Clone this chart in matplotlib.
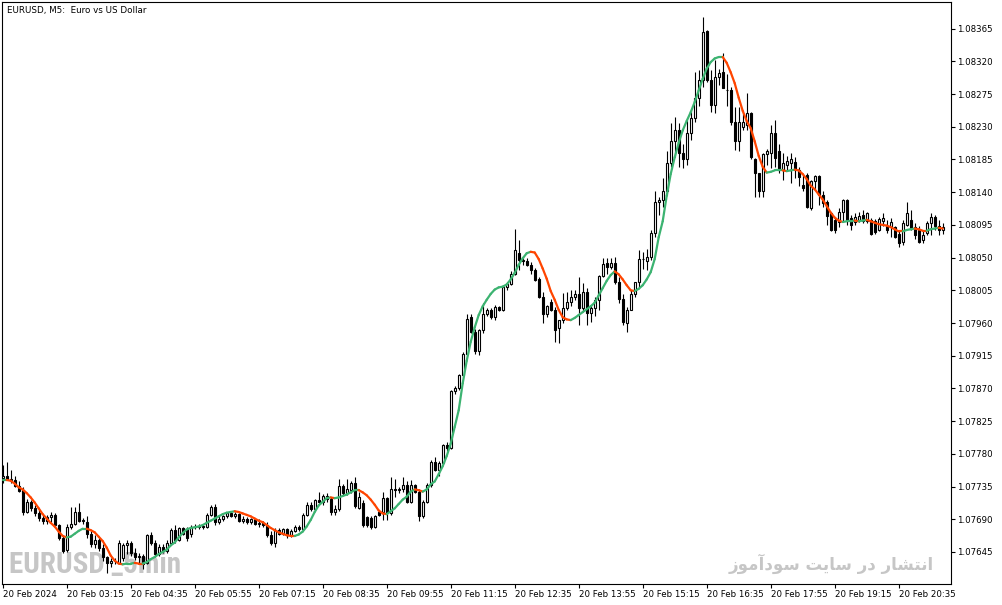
import matplotlib
matplotlib.use("Agg")
import matplotlib.pyplot as plt
from matplotlib.collections import LineCollection
from matplotlib import font_manager
import numpy as np

# ---- data (prices in points = 0.00001 above BASE) ----
BASE = 1.07600
POINT = 0.00001

opens = [147,150,146,144,136,130,100,114,106,98, 92,88,93,96,82,64,48,80,84,100,
         88,86,70,56,62,50,38,30,32,30, 36,54,58,44,38,40,30,68,58,42,
         52,46,58,75,62,78,76,70,80,79, 81,80,96,107,86,90,95,98,95,97,
         88,91,86,90,84,85,82,68,58,75, 70,76,68,74,80,77,96,110,104,116,
         114,122,118,100,104,136,126,130,140,106, 112,93,92,80,100,100,119,98,132,130,
         131,137,114,137,128,94,114,137,169,158, 168,192,188,266,271,288,318,368,348,322,
         350,373,378,368,382,378,410,414,428,457, 447,446,440,433,420,396,373,389,378,353,
         364,380,389,396,400,381,402,374,381,391, 425,443,437,443,416,393,360,378,400,416,
         448,446,451,484,526,529,542,580,611,625, 594,586,621,642,669,695,762,695,660,699,
         706,681,680,636,610,630,633,649,585,566, 541,593,594,621,596,571,578,580,582,571,
         550,564,518,555,562,536,527,511,502,499, 513,529,504,499,502,508,501,502,500,488,
         500,493,492,492,483,472,495,502,492,488, 474,484,497,506,493,488]
highs = [165,169,158,150,142,135,118,116,110,104, 96,96,100,98,84,68,84,107,107,112,
         92,94,74,68,64,56,40,36,36,62, 58,62,60,50,44,42,70,72,62,56,
         56,62,78,82,80,80,80,82,84,83, 84,98,110,111,96,96,100,101,100,98,
         95,93,92,92,90,88,86,74,78,78, 78,78,76,82,82,98,114,114,118,128,
         125,126,120,110,146,138,146,142,148,128, 116,95,94,96,103,128,121,148,146,134,
         148,142,144,139,131,116,140,172,176,170, 194,196,268,274,290,320,372,372,352,352,
         387,380,380,385,384,412,416,432,490,474, 452,450,444,436,424,403,385,393,382,364,
         401,403,405,405,423,415,408,385,396,426, 450,449,449,451,424,400,382,405,417,460,
         458,462,488,541,533,559,596,635,644,635, 607,640,653,706,708,781,763,708,722,710,
         731,703,685,657,657,652,676,651,587,566, 594,600,632,639,607,594,590,594,589,575,
         563,566,557,564,564,541,529,513,506,518, 531,531,508,511,513,516,513,504,503,506,
         511,502,504,494,488,502,527,515,497,493, 488,500,511,509,502,497]
lows = [140,145,140,134,128,96,98,102,95,88, 84,84,86,80,62,44,45,76,82,86,
        84,64,52,50,46,32,16,24,28,28, 32,42,40,34,28,22,28,54,38,40,
        44,44,56,58,60,68,60,66,77,76, 77,78,94,82,84,88,92,93,92,86,
        85,84,83,82,80,80,66,54,52,68, 68,64,66,72,74,76,94,102,102,112,
        110,114,96,96,102,124,124,126,106,104, 80,80,77,78,94,89,89,96,121,126,
        128,112,112,126,87,92,112,134,156,150, 166,184,186,262,268,286,316,346,318,316,
        346,370,366,364,376,376,406,412,426,433, 440,438,428,418,395,360,368,376,334,332,
        360,378,383,392,357,376,357,362,369,378, 424,428,435,414,387,357,348,378,396,410,
        435,433,447,479,508,520,536,575,589,575, 573,577,612,637,658,685,692,651,649,687,
        683,658,633,598,596,626,626,585,534,534, 534,577,573,575,566,557,570,552,559,548,
        541,518,516,543,523,520,495,486,484,492, 500,495,488,495,499,497,497,481,482,486,
        493,484,479,477,465,467,493,488,476,470, 470,481,481,488,481,483]
closes = [150,146,144,136,129,100,114,105,98,92, 88,93,96,82,64,46,80,84,100,88,
          89,70,56,62,50,38,30,32,33,58, 54,58,44,38,40,28,68,58,42,52,
          46,58,75,62,78,70,64,80,79,81, 80,96,107,86,90,95,98,95,97,88,
          91,86,90,84,85,82,68,58,75,70, 76,68,74,80,77,96,110,104,116,114,
          122,118,100,104,136,126,131,140,108,120, 82,82,80,94,96,119,98,132,130,131,
          137,114,137,128,94,114,137,169,158,168, 192,188,266,271,288,318,366,348,322,350,
          373,378,368,382,378,410,414,428,460,447, 446,440,433,419,396,373,384,378,350,364,
          380,389,396,400,381,402,374,381,391,425, 441,437,443,416,393,362,378,400,416,448,
          448,451,484,526,529,542,580,611,626,594, 586,621,642,669,695,761,694,660,699,704,
          683,680,636,610,637,637,649,589,566,541, 593,596,621,587,571,580,583,585,571,561,
          546,520,555,562,536,525,507,488,488,513, 529,500,495,506,507,501,511,483,485,503,
          504,488,499,479,470,497,511,490,481,472, 481,497,506,493,488,492]
ma_line = [144,144,143,139,134,131,126,120,113,105, 97,91,85,80,73,67,65,66,70,74,
           77,77,75,72,66,60,51,40,33,29, 28,29,29,30,29,29,31,35,38,42,
           45,48,54,58,65,71,76,78,79,80, 82,85,88,91,94,97,99,100,101,100,
           98,96,94,91,88,86,82,78,75,72, 70,68,67,67,69,73,80,89,100,109,
           114,119,120,119,120,122,124,127,130,130, 127,123,117,110,102,98,97,101,105,111,
           117,121,128,131,130,128,131,138,142,152, 163,177,194,217,240,277,308,334,354,371,
           383,392,400,406,409,410,413,420,429,440, 449,456,458,457,448,435,421,404,392,378,
           368,365,364,367,371,375,379,383,388,398, 408,418,426,431,427,420,412,405,404,407,
           412,420,430,448,478,500,535,565,588,608, 625,638,650,664,680,696,710,719,724,726,
           726,718,705,690,670,652,638,628,610,590, 575,567,568,570,570,570,569,570,571,570,
           565,558,549,544,537,530,521,512,505,501, 499,500,500,501,500,501,502,500,498,496,
           495,494,492,489,486,486,488,489,490,489, 487,487,489,490,491,490]

x_labels = ["20 Feb 2024", "20 Feb 03:15", "20 Feb 04:35", "20 Feb 05:55", "20 Feb 07:15",
            "20 Feb 08:35", "20 Feb 09:55", "20 Feb 11:15", "20 Feb 12:35", "20 Feb 13:55",
            "20 Feb 15:15", "20 Feb 16:35", "20 Feb 17:55", "20 Feb 19:15", "20 Feb 20:35"]
x_label_bars = [0, 16, 32, 48, 64, 80, 96, 112, 128, 144, 160, 176, 192, 208, 224]
y_ticks = [1.07645, 1.07690, 1.07735, 1.07780, 1.07825, 1.07870, 1.07915, 1.07960, 1.08005,
           1.08050, 1.08095, 1.08140, 1.08185, 1.08230, 1.08275, 1.08320, 1.08365]

title = "EURUSD, M5:  Euro vs US Dollar"
wm_left = "EURUSD _5min"
# "انتشار در سایت سودآموز" written with Arabic presentation forms in visual order
wm_right = "\uFEAF\uFEEE\uFEE3\uFE81\uFEA9\uFEEE\uFEB3 \uFE96\uFEF3\uFE8E\uFEB3 \uFEAD\uFEA9 \uFEAD\uFE8E\uFEB8\uFE98\uFEE7\uFE8D"

GREEN = "#3cb371"
ORANGE = "#ff4500"
WM_GRAY = "#c6c6c6"

# ---- choose a condensed bold face for the left watermark if one is installed ----
def pick_condensed_bold():
    cands = []
    for f in font_manager.fontManager.ttflist:
        name = f.name.lower()
        narrow = ("narrow" in name or "condensed" in name or "cond" in name
                  or f.stretch in ("condensed", "semi-condensed", "extra-condensed", 500, 600, 700))
        if not narrow:
            continue
        w = f.weight if isinstance(f.weight, int) else {"bold": 700, "normal": 400}.get(f.weight, 400)
        if w < 600:
            continue
        pref = 0
        if "liberation" in name:
            pref = -3
        elif "roboto" in name:
            pref = -2
        elif "noto sans" in name or "open sans" in name:
            pref = -1
        cands.append((pref, f.fname))
    if cands:
        cands.sort()
        return font_manager.FontProperties(fname=cands[0][1])
    return None

cond_fp = pick_condensed_bold()

# ---- figure ----
W, H = 1003, 605
fig = plt.figure(figsize=(W / 100, H / 100), dpi=100)
fig.patch.set_facecolor("white")
ax = fig.add_axes([2 / W, (H - 584) / H, (951 - 2) / W, (584 - 2) / H])
ax.set_facecolor("white")

n = len(closes)
x = np.arange(n)
o = BASE + np.array(opens) * POINT
h = BASE + np.array(highs) * POINT
l = BASE + np.array(lows) * POINT
c = BASE + np.array(closes) * POINT
m = BASE + np.array(ma_line) * POINT

ax.vlines(x, l, h, color="black", linewidth=0.8, zorder=3)
up = c >= o
ax.bar(x[up], c[up] - o[up], bottom=o[up], width=0.55, facecolor="white",
       edgecolor="black", linewidth=0.8, zorder=4)
ax.bar(x[~up], o[~up] - c[~up], bottom=c[~up], width=0.55, facecolor="black",
       edgecolor="black", linewidth=0.8, zorder=4)

segs = []
cols = []
cur = GREEN
for i in range(1, n):
    if m[i] > m[i - 1]:
        cur = GREEN
    elif m[i] < m[i - 1]:
        cur = ORANGE
    segs.append([(x[i - 1], m[i - 1]), (x[i], m[i])])
    cols.append(cur)
ax.add_collection(LineCollection(segs, colors=cols, linewidths=1.6, zorder=5,
                                 capstyle="round"))

ax.set_xlim(-0.175, 237.075)
ax.set_ylim(BASE + 0.9 * POINT, BASE + 801.7 * POINT)

ax.yaxis.tick_right()
ax.set_yticks(y_ticks)
ax.set_yticklabels([f"{t:.5f}" for t in y_ticks])
ax.tick_params(axis="y", direction="out", length=3, width=0.8, pad=1,
               labelsize=6.2, left=False, right=True)
ax.set_xticks(x_label_bars)
ax.set_xticklabels(x_labels)
for lbl in ax.get_xticklabels():
    lbl.set_horizontalalignment("left")
ax.tick_params(axis="x", direction="out", length=3, width=0.8, pad=1.5,
               labelsize=6.2, top=False, bottom=True)
for s in ax.spines.values():
    s.set_linewidth(0.8)
    s.set_color("black")

fig.text(7 / W, 1 - 10 / H, title, fontsize=6.3, ha="left", va="center", color="black")

if cond_fp is not None:
    cond_fp.set_size(21)
    ax.text(9 / W, 1 - 573 / H, wm_left, transform=fig.transFigure, fontproperties=cond_fp,
            color=WM_GRAY, ha="left", va="baseline", zorder=1)
else:
    ax.text(9 / W, 1 - 573 / H, wm_left, transform=fig.transFigure, fontsize=17,
            fontweight="bold", family=["Liberation Sans", "DejaVu Sans"],
            color=WM_GRAY, ha="left", va="baseline", zorder=1)
ax.text(934 / W, 1 - 564 / H, wm_right, transform=fig.transFigure, fontsize=12,
        fontweight="bold", family=["DejaVu Sans"], color=WM_GRAY,
        ha="right", va="center", zorder=1)

fig.savefig("out.png", dpi=100, facecolor="white")
